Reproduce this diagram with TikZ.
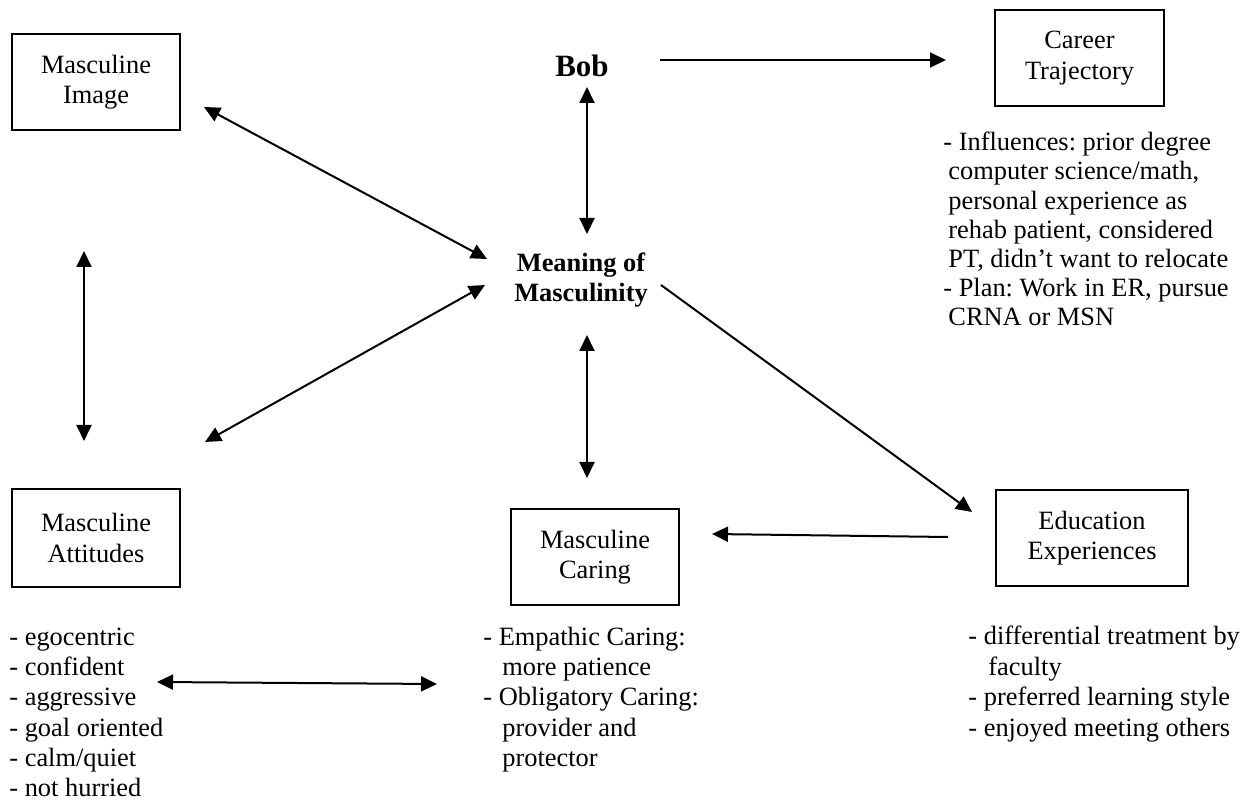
\documentclass[tikz,border=0pt]{standalone}
\usepackage{fontspec}
\setmainfont{Liberation Serif}
\usetikzlibrary{arrows.meta}
\frenchspacing
\begin{document}
\begin{tikzpicture}[x=0.5pt,y=-0.5pt,
  every node/.style={font=\fontsize{13.2}{15.2}\selectfont, inner sep=0pt},
  concept/.style={draw, line width=1.3pt, align=center, minimum width=#1, minimum height=48pt},
  concept/.default=84pt,
  notes/.style={align=left, anchor=base west},
  hub/.style={font=\fontsize{13.2}{15}\selectfont\bfseries, align=center},
  oneway/.style={line width=1pt, -{Triangle[length=8pt,width=7.5pt]}},
  twoway/.style={line width=1pt, {Triangle[length=8pt,width=7.5pt]}-{Triangle[length=8pt,width=7.5pt]}}]
\useasboundingbox (0,0) rectangle (1248,801);

% concept boxes
\node[concept] (image) at (96,82) {Masculine\\Image};
\node[concept=84.5pt] (career) at (1079.5,58) {Career\\Trajectory};
\node[concept, minimum height=49pt] (attitudes) at (96,538) {Masculine\\Attitudes};
\node[concept] (caring) at (595,557) {Masculine\\Caring};
\node[concept=96pt] (education) at (1092,538) {Education\\Experiences};

% central labels
\node[font=\fontsize{15.5}{18}\selectfont\bfseries, anchor=base] (bob) at (582,77) {Bob};
\node[hub] (meaning) at (581,280) {Meaning of\\Masculinity};

% notes under the boxes (anchored at the baseline of their last line)
\node[notes, font=\fontsize{13.2}{14.6}\selectfont] (careernotes) at (943,326)
  {- Influences: prior degree\\
   \hspace*{2.5pt}computer science/math,\\
   \hspace*{2.5pt}personal experience as\\
   \hspace*{2.5pt}rehab patient, considered\\
   \hspace*{2.5pt}PT, didn’t want to relocate\\
   - Plan: Work in ER, pursue\\
   \hspace*{2.5pt}CRNA or MSN};
\node[notes] (attnotes) at (9,797)
  {- egocentric\\- confident\\- aggressive\\- goal oriented\\- calm/quiet\\- not hurried};
\node[notes] (caringnotes) at (483,766.6)
  {- Empathic Caring:\\
   \hspace*{9.5pt}more patience\\
   - Obligatory Caring:\\
   \hspace*{9.5pt}provider and\\
   \hspace*{9.5pt}protector};
\node[notes] (edunotes) at (968,736.2)
  {- differential treatment by\\
   \hspace*{10pt}faculty\\
   - preferred learning style\\
   - enjoyed meeting others};

% connector end points
\coordinate (bobR) at (660,60);
\coordinate (careerL) at (946,60);
\coordinate (bobB) at (587,87);
\coordinate (meaningT) at (587,234);
\coordinate (imageR) at (204,107);
\coordinate (meaningUL) at (487,259);
\coordinate (attR) at (205,442);
\coordinate (meaningLL) at (485,285);
\coordinate (imageB) at (84,251);
\coordinate (attT) at (84,441);
\coordinate (meaningB) at (587,335);
\coordinate (caringT) at (587,478);
\coordinate (meaningR) at (661,285);
\coordinate (eduTL) at (972,512);
\coordinate (eduL) at (948,537);
\coordinate (caringR) at (712,534);
\coordinate (attnotesR) at (157,682);
\coordinate (caringnotesL) at (437,684);

% connectors
\draw[oneway] (bobR) -- (careerL);
\draw[twoway] (bobB) -- (meaningT);
\draw[twoway] (imageR) -- (meaningUL);
\draw[twoway] (attR) -- (meaningLL);
\draw[twoway] (imageB) -- (attT);
\draw[twoway] (meaningB) -- (caringT);
\draw[oneway] (meaningR) -- (eduTL);
\draw[oneway] (eduL) -- (caringR);
\draw[twoway] (attnotesR) -- (caringnotesL);
\end{tikzpicture}
\end{document}
